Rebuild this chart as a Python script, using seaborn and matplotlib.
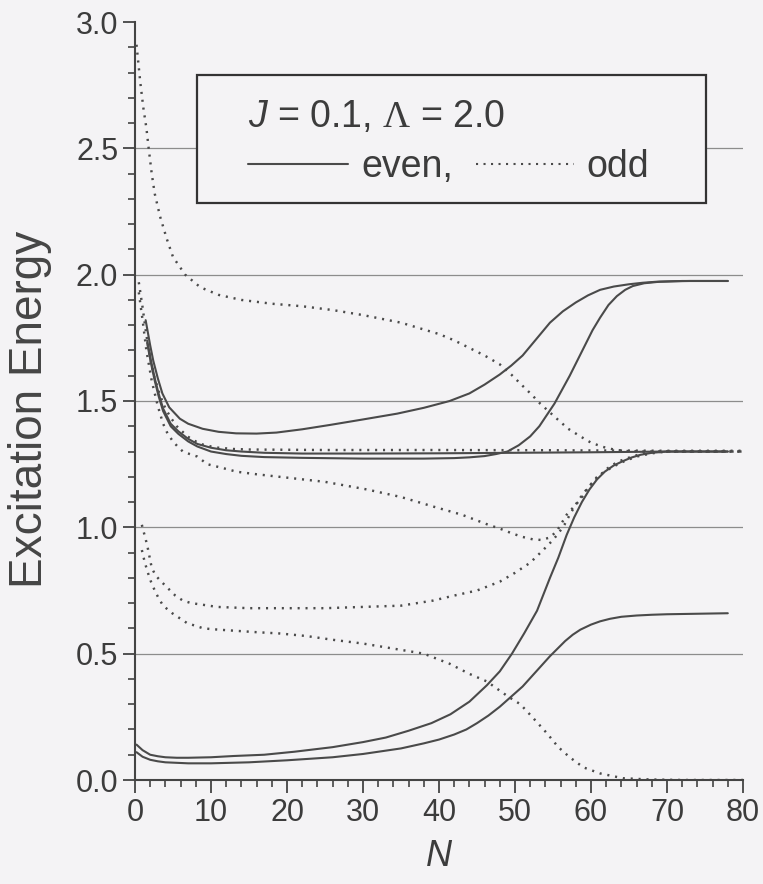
import numpy as np
import pandas as pd
import matplotlib
matplotlib.use("Agg")
import matplotlib.pyplot as plt
import seaborn as sns
from matplotlib.patches import Rectangle
from matplotlib.ticker import MultipleLocator, FormatStrFormatter

# ---- excitation energies vs. chain length N -------------------------------
# even-parity levels (solid lines)
even_a_n = [1.4, 2.0, 2.4, 3.0, 3.6, 4.5, 5.9, 7.0, 8.9, 11, 13.3, 16, 18.6, 22, 25.6, 30, 34.5, 38, 41.4, 44, 46, 48, 49.5,
            51, 52.8, 54.6, 56.3, 58, 59.6, 61.2, 63, 65, 66.8, 68.6, 71, 73, 78]
even_a_e = [1.82, 1.72, 1.66, 1.59, 1.53, 1.475, 1.43, 1.41, 1.39, 1.378, 1.372, 1.371, 1.375, 1.388, 1.405, 1.427, 1.45, 1.473,
            1.50, 1.53, 1.565, 1.605, 1.64, 1.68, 1.745, 1.81, 1.855, 1.89, 1.918, 1.94, 1.953, 1.962, 1.968, 1.972, 1.974,
            1.975, 1.975]

even_b_n = [1.6, 2.1, 2.6, 3.1, 3.7, 4.2, 4.7, 5.7, 7, 8.2, 10, 12, 14, 17, 22, 30, 38, 42, 44, 46, 47.5, 49, 50.5, 52, 53.2,
            54.2, 55.2, 56.2, 57.2, 58.2, 59.2, 60.2, 61.2, 62.3, 63.4, 64.5, 65.5, 67, 69, 72, 78]
even_b_e = [1.73, 1.65, 1.58, 1.52, 1.46, 1.43, 1.40, 1.37, 1.34, 1.32, 1.30, 1.29, 1.283, 1.278, 1.275, 1.272, 1.272, 1.274,
            1.277, 1.282, 1.29, 1.30, 1.325, 1.36, 1.40, 1.445, 1.49, 1.545, 1.60, 1.66, 1.72, 1.78, 1.83, 1.88, 1.915, 1.94,
            1.955, 1.966, 1.972, 1.975, 1.975]

even_c_n = [1.6, 2.1, 2.6, 3.1, 3.7, 4.2, 4.7, 5.7, 7, 8.2, 10, 12, 14, 17, 22, 30, 40, 50, 60, 70, 78]
even_c_e = [1.74, 1.66, 1.59, 1.53, 1.47, 1.44, 1.41, 1.38, 1.35, 1.33, 1.315, 1.305, 1.30, 1.295, 1.292, 1.292, 1.293,
            1.295, 1.297, 1.30, 1.30]

even_d_n = [0.2, 1, 2, 3, 4, 5.5, 7, 10, 13, 17, 21, 26, 30, 33, 36, 39, 41.5, 44, 46.3, 48, 49.6, 51.2, 52.9, 54.6, 55.7,
            56.8, 57.8, 58.8, 59.8, 60.8, 61.8, 63, 64.2, 65.3, 66.5, 68, 70, 78]
even_d_e = [0.14, 0.118, 0.10, 0.094, 0.09, 0.088, 0.088, 0.09, 0.095, 0.10, 0.112, 0.13, 0.15, 0.168, 0.195, 0.225, 0.26,
            0.31, 0.375, 0.43, 0.50, 0.58, 0.67, 0.80, 0.88, 0.97, 1.04, 1.10, 1.15, 1.19, 1.22, 1.245, 1.262, 1.276, 1.287,
            1.295, 1.30, 1.30]

even_e_n = [0.2, 1, 2, 3, 4, 5.5, 7, 10, 15, 20, 26, 30, 35, 38, 40, 42, 43.6, 45, 46.5, 48, 49.5, 51, 52.8, 54.6, 55.6,
            56.6, 57.6, 58.6, 60, 61.2, 62.5, 64, 66, 68, 70, 74, 78]
even_e_e = [0.11, 0.092, 0.08, 0.074, 0.07, 0.068, 0.066, 0.066, 0.07, 0.078, 0.09, 0.103, 0.125, 0.145, 0.16, 0.18, 0.20,
            0.225, 0.255, 0.29, 0.33, 0.37, 0.43, 0.49, 0.52, 0.55, 0.575, 0.595, 0.615, 0.628, 0.638, 0.646, 0.651, 0.654,
            0.656, 0.658, 0.66]

# odd-parity levels (dotted lines)
odd_a_n = [0.2, 0.7, 1.1, 1.5, 1.8, 2.2, 2.6, 3.3, 4.2, 5, 6.6, 8.6, 11, 14, 18, 22, 26, 30, 35, 40, 42, 44, 46, 48, 49.5,
           51, 52.2, 53.3, 54.4, 55.5, 57, 58.6, 60, 61.6, 63, 64.5, 67, 72, 80]
odd_a_e = [2.91, 2.76, 2.66, 2.58, 2.50, 2.40, 2.32, 2.23, 2.14, 2.07, 2.00, 1.95, 1.92, 1.90, 1.885, 1.875, 1.86, 1.84,
           1.81, 1.765, 1.74, 1.71, 1.68, 1.645, 1.605, 1.56, 1.525, 1.49, 1.46, 1.43, 1.39, 1.36, 1.335, 1.318, 1.308,
           1.302, 1.30, 1.30, 1.30]

odd_b_n = [0.5, 1.0, 1.5, 2.0, 2.5, 3.1, 3.7, 4.2, 4.8, 5.5, 6.2, 6.9, 7.7, 8.6, 10, 11, 13, 15, 25, 40, 55, 70, 80]
odd_b_e = [1.97, 1.87, 1.76, 1.67, 1.60, 1.54, 1.49, 1.46, 1.43, 1.40, 1.38, 1.36, 1.345, 1.33, 1.32, 1.315, 1.31, 1.308,
           1.306, 1.306, 1.305, 1.303, 1.303]

odd_c_n = [0.5, 1.0, 1.5, 2.2, 3, 3.7, 4.3, 5, 5.6, 6.3, 7.2, 8.2, 9.5, 11.5, 13.4, 16, 19, 25, 30.5, 35, 39.5, 43, 46.5,
           48, 49.7, 51, 52.4, 53.5, 54.6, 55.5, 56.2, 56.8, 57.7, 58.6, 59.7, 60.8, 61.9, 62.9, 64.4, 66, 68, 70, 80]
odd_c_e = [1.93, 1.82, 1.70, 1.58, 1.48, 1.41, 1.37, 1.34, 1.32, 1.30, 1.29, 1.28, 1.25, 1.235, 1.22, 1.21, 1.20, 1.18,
           1.15, 1.12, 1.08, 1.05, 1.01, 0.995, 0.975, 0.962, 0.952, 0.95, 0.96, 0.985, 1.02, 1.05, 1.08, 1.11, 1.16, 1.20,
           1.222, 1.24, 1.262, 1.28, 1.293, 1.30, 1.30]

odd_d_n = [0.9, 1.6, 2.2, 2.7, 3.3, 4.3, 5.3, 6.3, 7.4, 8.6, 10.8, 15, 19, 25, 30, 35, 39.2, 42, 45, 48, 50, 52, 53.7, 55,
           55.8, 56.5, 57.3, 58.2, 59, 60, 61, 62, 63, 64, 65.2, 66.5, 68, 70, 80]
odd_d_e = [1.01, 0.93, 0.84, 0.81, 0.79, 0.76, 0.73, 0.71, 0.70, 0.695, 0.685, 0.68, 0.68, 0.68, 0.685, 0.69, 0.71, 0.73,
           0.75, 0.785, 0.82, 0.86, 0.91, 0.95, 0.98, 1.01, 1.055, 1.10, 1.135, 1.17, 1.20, 1.23, 1.25, 1.265, 1.278, 1.29,
           1.297, 1.30, 1.30]

odd_e_n = [0.9, 1.3, 1.7, 2.1, 2.6, 3.1, 3.7, 4.3, 4.9, 5.9, 6.9, 8, 9, 11, 13.5, 16, 19, 22.5, 26, 30, 35, 38, 41.4, 44,
           46.3, 49.1, 50.7, 52.4, 54.2, 55.7, 57.2, 59, 61.2, 64.2, 67.8, 72, 80]
odd_e_e = [0.91, 0.86, 0.82, 0.785, 0.75, 0.72, 0.69, 0.675, 0.66, 0.64, 0.62, 0.61, 0.60, 0.595, 0.59, 0.585, 0.58, 0.57,
           0.555, 0.54, 0.515, 0.50, 0.46, 0.42, 0.39, 0.33, 0.30, 0.245, 0.185, 0.13, 0.09, 0.05, 0.026, 0.007, 0.002,
           0.0, 0.0]

curves = [
    ("e1", "even", even_a_n, even_a_e),
    ("e2", "even", even_b_n, even_b_e),
    ("e3", "even", even_c_n, even_c_e),
    ("e4", "even", even_d_n, even_d_e),
    ("e5", "even", even_e_n, even_e_e),
    ("o1", "odd", odd_a_n, odd_a_e),
    ("o2", "odd", odd_b_n, odd_b_e),
    ("o3", "odd", odd_c_n, odd_c_e),
    ("o4", "odd", odd_d_n, odd_d_e),
    ("o5", "odd", odd_e_n, odd_e_e),
]

rows = []
for name, parity, ns, es in curves:
    for n, e in zip(ns, es):
        rows.append({"curve": name, "parity": parity, "N": n, "E": e})
df = pd.DataFrame(rows)

# ---- style ----------------------------------------------------------------
sns.set_theme(style="ticks")
plt.rcParams["font.family"] = ["Liberation Sans", "DejaVu Sans"]
plt.rcParams["mathtext.fontset"] = "custom"
plt.rcParams["mathtext.it"] = "Liberation Sans:italic"
plt.rcParams["mathtext.rm"] = "Liberation Serif"

bg = "#f4f3f5"
ink = "#4a4a4a"
axis_ink = "#444444"
grid_ink = "#8c8c8c"
text_ink = "#3c3c3c"
dot_dashes = (0.85, 2.4)

fig = plt.figure(figsize=(7.63, 8.84), dpi=100, facecolor=bg)
ax = fig.add_axes([135 / 763, 1 - 780 / 884, 608 / 763, 758 / 884])
ax.set_facecolor(bg)

for level in np.arange(0.5, 3.0, 0.5):
    ax.axhline(level, color=grid_ink, lw=0.9, zorder=0)

sns.lineplot(
    data=df, x="N", y="E", units="curve", estimator=None, sort=False,
    style="parity", style_order=["even", "odd"],
    dashes={"even": "", "odd": dot_dashes},
    color=ink, lw=1.5, legend=False, ax=ax,
)
for line in ax.lines:
    line.set_solid_joinstyle("round")
    if line.get_linestyle() != "-":
        line.set_linewidth(1.75)

ax.set_xlim(0, 80)
ax.set_ylim(0, 3.0)
ax.xaxis.set_major_locator(MultipleLocator(10))
ax.xaxis.set_minor_locator(MultipleLocator(2))
ax.yaxis.set_major_locator(MultipleLocator(0.5))
ax.yaxis.set_minor_locator(MultipleLocator(0.1))
ax.yaxis.set_major_formatter(FormatStrFormatter("%.1f"))

for side in ("top", "right"):
    ax.spines[side].set_visible(False)
for side in ("left", "bottom"):
    ax.spines[side].set_color(axis_ink)
    ax.spines[side].set_linewidth(1.5)

ax.tick_params(axis="both", which="major", direction="out", length=9, width=1.3,
               color=axis_ink, labelsize=22, labelcolor=text_ink, pad=4)
ax.tick_params(axis="y", which="major", pad=3)
ax.tick_params(axis="both", which="minor", direction="out", length=5, width=1.2,
               color=axis_ink)

ax.set_xlabel("N", fontsize=26, style="italic", color=text_ink)
ax.xaxis.label.set_va("center")
ax.xaxis.set_label_coords(0.5, (780 - 857) / 758)
ax.set_ylabel("Excitation Energy", fontsize=33, color="#454545")
ax.yaxis.label.set_va("center")
ax.yaxis.set_label_coords((30 - 135) / 608, (780 - 409) / 758)

# ---- key box ----------------------------------------------------------------
box = Rectangle((0.102, 0.761), 0.837, 0.169, transform=ax.transAxes,
                facecolor=bg, edgecolor="#333333", lw=1.6, zorder=5)
ax.add_patch(box)
ax.text(0.186, 0.861, r"$J$ = 0.1, $\Lambda$ = 2.0", transform=ax.transAxes,
        fontsize=27, color=text_ink, ha="left", va="baseline", zorder=6)
ax.plot([0.186, 0.350], [0.813, 0.813], transform=ax.transAxes,
        color=ink, lw=1.5, zorder=6)
ax.text(0.372, 0.795, "even,", transform=ax.transAxes, fontsize=27,
        color=text_ink, ha="left", va="baseline", zorder=6)
ax.plot([0.561, 0.722], [0.813, 0.813], transform=ax.transAxes,
        color=ink, lw=1.5, dashes=(1.0, 2.6), zorder=6)
ax.text(0.743, 0.795, "odd", transform=ax.transAxes, fontsize=27,
        color=text_ink, ha="left", va="baseline", zorder=6)

fig.savefig("out.png", dpi=100, facecolor=bg)
